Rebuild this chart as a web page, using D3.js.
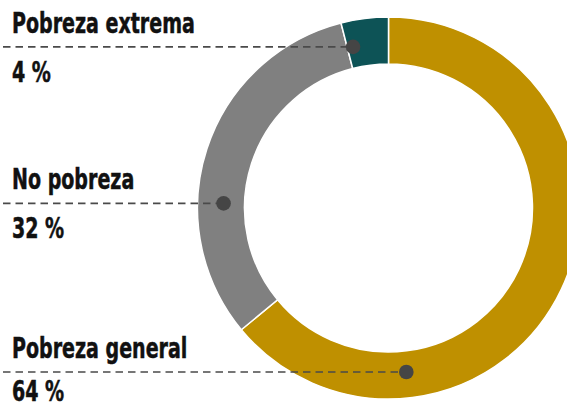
<!DOCTYPE html>
<html>
<head>
<meta charset="utf-8">
<script src="https://cdn.jsdelivr.net/npm/d3@7/dist/d3.min.js"></script>
<style>
  html, body { margin: 0; padding: 0; background: #ffffff; }
  svg { display: block; }
  .lbl { font-family: 'Liberation Sans Narrow', 'DejaVu Sans Condensed', 'DejaVu Sans', sans-serif; font-stretch: condensed; font-weight: bold; fill: #111111; stroke: #111111; stroke-width: 0.5px; }
</style>
</head>
<body>
<svg id="chart" width="567" height="408"></svg>
<script>
// ---- data ----
const categories = ["Pobreza general", "No pobreza", "Pobreza extrema"];
const values = [64, 32, 4];
const valueLabels = ["64 %", "32 %", "4 %"];
const colors = ["#BF9000", "#808080", "#0D5356"];

// ---- layout ----
const W = 567, H = 408;
const cx = 388.5, cy = 208;
const outerR = 191, innerR = 144, dotR = 165;
// marker angle (degrees clockwise from 12 o'clock) for each category
const markerAngle = [173.8, 271.6, 347.6];
const labelX = 12;
const nameOffset = -14, valueOffset = 35;
const maxValueBaseline = 401;
const fontSize = 28.5;

const svg = d3.select("#chart");

const pie = d3.pie().sort(null).startAngle(0).endAngle(2 * Math.PI).value(d => d.value);
const arc = d3.arc().innerRadius(innerR).outerRadius(outerR);
const data = categories.map((c, i) => ({ name: c, value: values[i], label: valueLabels[i], color: colors[i], angle: markerAngle[i] }));

const g = svg.append("g").attr("transform", `translate(${cx},${cy})`);
g.selectAll("path.slice")
  .data(pie(data))
  .join("path")
  .attr("class", "slice")
  .attr("d", arc)
  .attr("fill", d => d.data.color)
  .attr("stroke", "#ffffff")
  .attr("stroke-width", 1.5);

// marker positions
const pts = data.map(d => {
  const a = d.angle * Math.PI / 180;
  return { ...d, x: cx + dotR * Math.sin(a), y: cy - dotR * Math.cos(a) };
});

// dashed guide lines
svg.selectAll("line.guide")
  .data(pts)
  .join("line")
  .attr("class", "guide")
  .attr("x1", 3)
  .attr("x2", d => d.x)
  .attr("y1", d => d.y)
  .attr("y2", d => d.y)
  .attr("stroke", "#4a4a4a")
  .attr("stroke-width", 1.6)
  .attr("stroke-dasharray", "7.5,5");

// dots
svg.selectAll("circle.dot")
  .data(pts)
  .join("circle")
  .attr("class", "dot")
  .attr("cx", d => d.x)
  .attr("cy", d => d.y)
  .attr("r", 7.3)
  .attr("fill", "#454545");

// labels
const tg = svg.append("g");
const names = tg.selectAll("text.name")
  .data(pts)
  .join("text")
  .attr("class", "lbl name")
  .attr("x", labelX)
  .attr("y", d => d.y + nameOffset)
  .attr("font-size", fontSize)
  .text(d => d.name);
const vals = tg.selectAll("text.val")
  .data(pts)
  .join("text")
  .attr("class", "lbl val")
  .attr("x", labelX)
  .attr("y", d => Math.min(d.y + valueOffset, maxValueBaseline))
  .attr("font-size", fontSize)
  .text(d => d.label);

// squeeze horizontally to mimic condensed display face: "Pobreza extrema" ≈ 183px wide
const refNode = names.filter(d => d.name === "Pobreza extrema").node();
const wRef = refNode.getComputedTextLength();
const sx = Math.min(1, 183 / wRef);
tg.selectAll("text").each(function () {
  const x = +this.getAttribute("x");
  d3.select(this).attr("transform", `translate(${x},0) scale(${sx},1) translate(${-x},0)`);
});
</script>
</body>
</html>
